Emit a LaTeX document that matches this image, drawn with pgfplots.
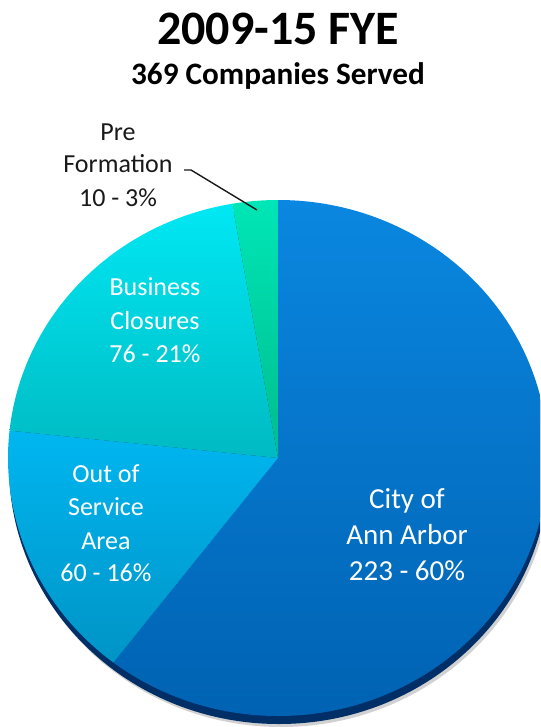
\documentclass[border=0pt]{standalone}
\usepackage{fontspec}
\setmainfont{Carlito}
\usepackage{pgfplots}
\pgfplotsset{compat=1.18}

\definecolor{cityT}{HTML}{0A87E0}
\definecolor{cityB}{HTML}{0062B2}
\definecolor{outT}{HTML}{00B6F0}
\definecolor{outB}{HTML}{0094C6}
\definecolor{busT}{HTML}{00E8F4}
\definecolor{busB}{HTML}{00BAC2}
\definecolor{preT}{HTML}{00E6B6}
\definecolor{preB}{HTML}{00BC8E}
\definecolor{rim}{HTML}{002E66}

\tikzset{lbl/.style={font=\fontsize{13}{15}\selectfont, anchor=base, white}}

% companies served, by group
\def\vCity{223}
\def\vOut{60}
\def\vBus{76}
\def\vPre{10}

\begin{document}
\begin{tikzpicture}
  \pgfmathsetmacro\tot{\vCity+\vOut+\vBus+\vPre}
  \pgfmathsetmacro\aA{90}
  \pgfmathsetmacro\aB{\aA-\vCity/\tot*360}
  \pgfmathsetmacro\aC{\aB-\vOut/\tot*360}
  \pgfmathsetmacro\aD{\aC-\vBus/\tot*360}
  \pgfmathsetmacro\aE{\aD-\vPre/\tot*360}
  \begin{axis}[
    width=270pt, height=363.5pt, scale only axis,
    xmin=0, xmax=540, ymin=0, ymax=727, y dir=reverse,
    hide axis, clip=true,
  ]
    \coordinate (bl) at (rel axis cs:0,0);
    \coordinate (tr) at (rel axis cs:1,1);
    % shadow and rim
    \fill[black!18] (axis cs:281,469) ellipse[x radius=135pt, y radius=129pt];
    \fill[rim] (axis cs:279,466) ellipse[x radius=135pt, y radius=129pt];
    % slices
    \shade[top color=cityT, bottom color=cityB] (axis cs:278,458) -- ++({\aA}:135pt and 129pt)
      arc[start angle=\aA, end angle=\aB, x radius=135pt, y radius=129pt] -- cycle;
    \shade[top color=outT, bottom color=outB] (axis cs:278,458) -- ++({\aB}:135pt and 129pt)
      arc[start angle=\aB, end angle=\aC, x radius=135pt, y radius=129pt] -- cycle;
    \shade[top color=busT, bottom color=busB] (axis cs:278,458) -- ++({\aC}:135pt and 129pt)
      arc[start angle=\aC, end angle=\aD, x radius=135pt, y radius=129pt] -- cycle;
    \shade[top color=preT, bottom color=preB] (axis cs:278,458) -- ++({\aD}:135pt and 129pt)
      arc[start angle=\aD, end angle=\aE, x radius=135pt, y radius=129pt] -- cycle;
    % titles
    \node[anchor=base, font=\fontsize{24}{28}\selectfont\bfseries] at (axis cs:278,45) {2009-15 FYE};
    \node[anchor=base, font=\fontsize{15.6}{18}\selectfont\bfseries] at (axis cs:278,84.5) {369 Companies Served};
    % labels
    \node[lbl, black!90] at (axis cs:118,141) {Pre};
    \node[lbl, black!90] at (axis cs:118,173) {Formation};
    \node[lbl, black!90] at (axis cs:118,206) {10 - 3\%};
    \draw[black!90, line width=0.7pt] (axis cs:184,170) -- (axis cs:191,170) -- (axis cs:257,210);
    \node[lbl] at (axis cs:155,295) {Business};
    \node[lbl] at (axis cs:155,329) {Closures};
    \node[lbl] at (axis cs:155,362) {76 - 21\%};
    \node[lbl] at (axis cs:106,482) {Out of};
    \node[lbl] at (axis cs:106,515) {Service};
    \node[lbl] at (axis cs:106,549) {Area};
    \node[lbl] at (axis cs:106,581) {60 - 16\%};
    \node[lbl, font=\fontsize{14.5}{17}\selectfont] at (axis cs:407,508) {City of};
    \node[lbl, font=\fontsize{14.5}{17}\selectfont] at (axis cs:407,544) {Ann Arbor};
    \node[lbl, font=\fontsize{14.5}{17}\selectfont] at (axis cs:407,580) {223 - 60\%};
  \end{axis}
  \pgfresetboundingbox
  \path (bl) rectangle (tr);
\end{tikzpicture}
\end{document}
